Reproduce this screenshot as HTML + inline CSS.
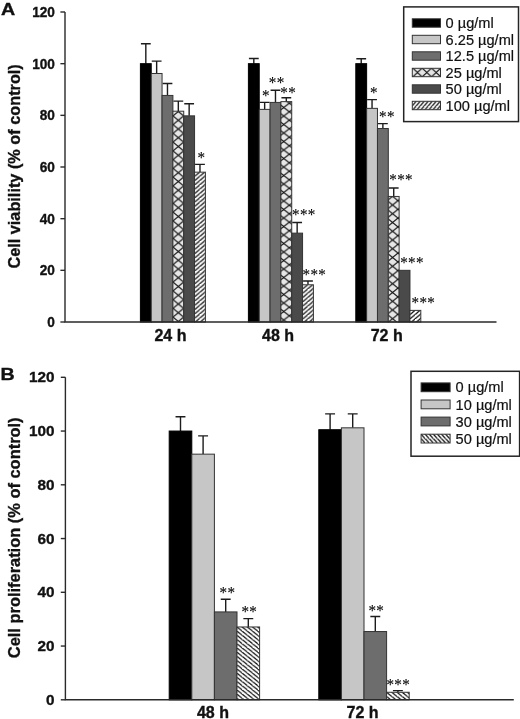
<!DOCTYPE html>
<html lang="en"><head><meta charset="utf-8"><title>Figure</title>
<style>
html,body{margin:0;padding:0;background:#fff}
svg{display:block;filter:blur(0.35px)}
text{font-family:"Liberation Sans",sans-serif;fill:#111}
.b{font-weight:bold;stroke:#111;stroke-width:0.35px}
.r{font-weight:normal;stroke:#111;stroke-width:0.2px}
.st{font-family:'Liberation Serif', serif;font-size:17.6px;letter-spacing:0.36px;fill:#000;stroke:#000;stroke-width:0.12px}
</style></head><body>
<svg width="520" height="719" viewBox="0 0 520 719">
<rect width="520" height="719" fill="#fff"/>
<g id="panelA">
<text x="0.9" y="14.7" font-size="16.6" textLength="14.2" lengthAdjust="spacingAndGlyphs" class="b">A</text>
<text transform="translate(20.4 268.6) rotate(-90)" font-size="17.0" textLength="204.4" lengthAdjust="spacingAndGlyphs" class="b">Cell viability (% of control)</text>
<path d="M145.82 63.67V43.78M140.92 43.78H150.72" stroke="#1c1c1c" stroke-width="1.4" fill="none"/>
<path d="M156.65 73.49V61.09M151.75 61.09H161.55" stroke="#1c1c1c" stroke-width="1.4" fill="none"/>
<path d="M167.48 95.44V83.56M162.58 83.56H172.38" stroke="#1c1c1c" stroke-width="1.4" fill="none"/>
<path d="M178.32 111.2V101.13M173.42 101.13H183.22" stroke="#1c1c1c" stroke-width="1.4" fill="none"/>
<path d="M189.15 115.85V103.71M184.25 103.71H194.05" stroke="#1c1c1c" stroke-width="1.4" fill="none"/>
<path d="M199.98 172.17V164.42M195.08 164.42H204.88" stroke="#1c1c1c" stroke-width="1.4" fill="none"/>
<rect x="140.4" y="63.67" width="10.83" height="258.33" fill="#000" stroke="#000" stroke-width="1"/>
<rect x="151.23" y="73.49" width="10.83" height="248.51" fill="#c6c6c6" stroke="#333" stroke-width="1"/>
<rect x="162.07" y="95.44" width="10.83" height="226.56" fill="#6d6d6d" stroke="#333" stroke-width="1"/>
<pattern id="xh_172_111" patternUnits="userSpaceOnUse" x="172.95" y="107.12" width="10.7" height="8.75"><rect width="10.7" height="8.75" fill="#e6e6e6"/><path d="M0 0L10.7 8.75M10.7 0L0 8.75" stroke="#111" stroke-width="1.15"/></pattern>
<rect x="172.9" y="111.2" width="10.83" height="210.8" fill="url(#xh_172_111)" stroke="#333" stroke-width="1"/>
<rect x="183.73" y="115.85" width="10.83" height="206.15" fill="#4a4a4a" stroke="#333" stroke-width="1"/>
<pattern id="hA_194_172" patternUnits="userSpaceOnUse" x="194.57" y="172.17" width="5" height="4.3"><rect width="5" height="4.3" fill="#fff"/><path d="M-5 8.6L5 0M0 8.6L10 0" stroke="#111" stroke-width="1.25"/></pattern>
<rect x="194.57" y="172.17" width="10.83" height="149.83" fill="url(#hA_194_172)" stroke="#333" stroke-width="1"/>
<path d="M253.82 63.67V58.5M248.92 58.5H258.72" stroke="#1c1c1c" stroke-width="1.4" fill="none"/>
<path d="M264.65 109.39V102.42M259.75 102.42H269.55" stroke="#1c1c1c" stroke-width="1.4" fill="none"/>
<path d="M275.48 102.42V90.28M270.58 90.28H280.38" stroke="#1c1c1c" stroke-width="1.4" fill="none"/>
<path d="M286.32 101.64V97.77M281.42 97.77H291.22" stroke="#1c1c1c" stroke-width="1.4" fill="none"/>
<path d="M297.15 233.13V222.54M292.25 222.54H302.05" stroke="#1c1c1c" stroke-width="1.4" fill="none"/>
<path d="M307.98 284.8V280.93M303.08 280.93H312.88" stroke="#1c1c1c" stroke-width="1.4" fill="none"/>
<rect x="248.4" y="63.67" width="10.83" height="258.33" fill="#000" stroke="#000" stroke-width="1"/>
<rect x="259.23" y="109.39" width="10.83" height="212.61" fill="#c6c6c6" stroke="#333" stroke-width="1"/>
<rect x="270.07" y="102.42" width="10.83" height="219.58" fill="#6d6d6d" stroke="#333" stroke-width="1"/>
<pattern id="xh_280_101" patternUnits="userSpaceOnUse" x="278.15" y="103.25" width="11.2" height="8.5"><rect width="11.2" height="8.5" fill="#e6e6e6"/><path d="M0 0L11.2 8.5M11.2 0L0 8.5" stroke="#111" stroke-width="1.15"/></pattern>
<rect x="280.9" y="101.64" width="10.83" height="220.36" fill="url(#xh_280_101)" stroke="#333" stroke-width="1"/>
<rect x="291.73" y="233.13" width="10.83" height="88.87" fill="#4a4a4a" stroke="#333" stroke-width="1"/>
<pattern id="hA_302_284" patternUnits="userSpaceOnUse" x="302.57" y="284.8" width="5" height="4.3"><rect width="5" height="4.3" fill="#fff"/><path d="M-5 8.6L5 0M0 8.6L10 0" stroke="#111" stroke-width="1.25"/></pattern>
<rect x="302.57" y="284.8" width="10.83" height="37.2" fill="url(#hA_302_284)" stroke="#333" stroke-width="1"/>
<path d="M361.22 63.67V58.76M356.32 58.76H366.12" stroke="#1c1c1c" stroke-width="1.4" fill="none"/>
<path d="M372.05 108.36V99.58M367.15 99.58H376.95" stroke="#1c1c1c" stroke-width="1.4" fill="none"/>
<path d="M382.88 128.51V123.6M377.98 123.6H387.78" stroke="#1c1c1c" stroke-width="1.4" fill="none"/>
<path d="M393.72 196.45V187.93M388.82 187.93H398.62" stroke="#1c1c1c" stroke-width="1.4" fill="none"/>
<rect x="355.8" y="63.67" width="10.83" height="258.33" fill="#000" stroke="#000" stroke-width="1"/>
<rect x="366.63" y="108.36" width="10.83" height="213.64" fill="#c6c6c6" stroke="#333" stroke-width="1"/>
<rect x="377.47" y="128.51" width="10.83" height="193.49" fill="#6d6d6d" stroke="#333" stroke-width="1"/>
<pattern id="xh_388_196" patternUnits="userSpaceOnUse" x="387.2" y="200.62" width="10.8" height="8.75"><rect width="10.8" height="8.75" fill="#e6e6e6"/><path d="M0 0L10.8 8.75M10.8 0L0 8.75" stroke="#111" stroke-width="1.15"/></pattern>
<rect x="388.3" y="196.45" width="10.83" height="125.55" fill="url(#xh_388_196)" stroke="#333" stroke-width="1"/>
<rect x="399.13" y="270.33" width="10.83" height="51.67" fill="#4a4a4a" stroke="#333" stroke-width="1"/>
<pattern id="hA_409_310" patternUnits="userSpaceOnUse" x="409.97" y="310.38" width="5" height="4.3"><rect width="5" height="4.3" fill="#fff"/><path d="M-5 8.6L5 0M0 8.6L10 0" stroke="#111" stroke-width="1.25"/></pattern>
<rect x="409.97" y="310.38" width="10.83" height="11.62" fill="url(#hA_409_310)" stroke="#333" stroke-width="1"/>
<path d="M65 12V322H496.5" stroke="#2a2a2a" stroke-width="1.4" fill="none"/>
<path d="M60.4 322H65" stroke="#2a2a2a" stroke-width="1.4"/>
<text transform="translate(54.9 327) scale(0.955 1)" text-anchor="end" font-size="14.3" class="b">0</text>
<path d="M60.4 270.33H65" stroke="#2a2a2a" stroke-width="1.4"/>
<text transform="translate(54.9 275) scale(0.955 1)" text-anchor="end" font-size="14.3" class="b">20</text>
<path d="M60.4 218.67H65" stroke="#2a2a2a" stroke-width="1.4"/>
<text transform="translate(54.9 224) scale(0.955 1)" text-anchor="end" font-size="14.3" class="b">40</text>
<path d="M60.4 167H65" stroke="#2a2a2a" stroke-width="1.4"/>
<text transform="translate(54.9 172) scale(0.955 1)" text-anchor="end" font-size="14.3" class="b">60</text>
<path d="M60.4 115.34H65" stroke="#2a2a2a" stroke-width="1.4"/>
<text transform="translate(54.9 120) scale(0.955 1)" text-anchor="end" font-size="14.3" class="b">80</text>
<path d="M60.4 63.67H65" stroke="#2a2a2a" stroke-width="1.4"/>
<text transform="translate(54.9 69) scale(0.955 1)" text-anchor="end" font-size="14.3" class="b">100</text>
<path d="M60.4 12H65" stroke="#2a2a2a" stroke-width="1.4"/>
<text transform="translate(54.9 17) scale(0.955 1)" text-anchor="end" font-size="14.3" class="b">120</text>
<text x="170.4" y="340.5" text-anchor="middle" font-size="16" class="b">24 h</text>
<text x="278" y="340.5" text-anchor="middle" font-size="16" class="b">48 h</text>
<text x="386.7" y="340.5" text-anchor="middle" font-size="16" class="b">72 h</text>
<text transform="translate(197.5 163) scale(0.86 1)" class="st">*</text>
<text transform="translate(261.9 101) scale(0.86 1)" class="st">*</text>
<text transform="translate(268.8 88) scale(0.86 1)" class="st">**</text>
<text transform="translate(280.3 98) scale(0.86 1)" class="st">**</text>
<text transform="translate(292.1 220) scale(0.86 1)" class="st">***</text>
<text transform="translate(302.6 280) scale(0.86 1)" class="st">***</text>
<text transform="translate(370 98) scale(0.86 1)" class="st">*</text>
<text transform="translate(379.1 122) scale(0.86 1)" class="st">**</text>
<text transform="translate(389.3 185) scale(0.86 1)" class="st">***</text>
<text transform="translate(400.2 268) scale(0.86 1)" class="st">***</text>
<text transform="translate(411.6 308) scale(0.86 1)" class="st">***</text>
<rect x="403.7" y="6.9" width="114.8" height="114.7" fill="#fff" stroke="#242424" stroke-width="1.5"/>
<rect x="412.3" y="18.8" width="28.2" height="8.4" fill="#000" stroke="#333" stroke-width="1"/>
<text x="445.6" y="28.1" font-size="14.6" class="r">0 µg/ml</text>
<rect x="412.3" y="35.3" width="28.2" height="8.4" fill="#c6c6c6" stroke="#333" stroke-width="1"/>
<text x="445.6" y="44.6" font-size="14.6" class="r">6.25 µg/ml</text>
<rect x="412.3" y="51.8" width="28.2" height="8.4" fill="#6d6d6d" stroke="#333" stroke-width="1"/>
<text x="445.6" y="61.1" font-size="14.6" class="r">12.5 µg/ml</text>
<pattern id="lgxh" patternUnits="userSpaceOnUse" x="412.8" y="68.2" width="9.35" height="8.6"><rect width="9.35" height="8.6" fill="#e4e4e4"/><path d="M0 0L9.35 8.6M9.35 0L0 8.6" stroke="#111" stroke-width="1.15"/></pattern>
<rect x="412.3" y="68.3" width="28.2" height="8.4" fill="url(#lgxh)" stroke="#333" stroke-width="1"/>
<text x="445.6" y="77.6" font-size="14.6" class="r">25 µg/ml</text>
<rect x="412.3" y="84.8" width="28.2" height="8.4" fill="#4a4a4a" stroke="#333" stroke-width="1"/>
<text x="445.6" y="94.1" font-size="14.6" class="r">50 µg/ml</text>
<pattern id="lghA" patternUnits="userSpaceOnUse" x="412.3" y="101.2" width="4" height="4.7"><rect width="4" height="4.7" fill="#fff"/><path d="M-4 9.4L4 0M0 9.4L8 0" stroke="#111" stroke-width="1.3"/></pattern>
<rect x="412.3" y="101.3" width="28.2" height="8.4" fill="url(#lghA)" stroke="#333" stroke-width="1"/>
<text x="445.6" y="110.6" font-size="14.6" class="r">100 µg/ml</text>
</g>
<g id="panelB">
<text x="0.4" y="379.5" font-size="16.8" textLength="14.2" lengthAdjust="spacingAndGlyphs" class="b">B</text>
<text transform="translate(20.4 658.2) rotate(-90)" font-size="17.0" textLength="240.8" lengthAdjust="spacingAndGlyphs" class="b">Cell proliferation (% of control)</text>
<path d="M180.5 431.05V416.81M175.55 416.81H185.45" stroke="#1c1c1c" stroke-width="1.4" fill="none"/>
<path d="M203.1 454.16V435.89M198.15 435.89H208.05" stroke="#1c1c1c" stroke-width="1.4" fill="none"/>
<path d="M225.7 611.92V599.29M220.75 599.29H230.65" stroke="#1c1c1c" stroke-width="1.4" fill="none"/>
<path d="M248.3 626.97V618.64M243.35 618.64H253.25" stroke="#1c1c1c" stroke-width="1.4" fill="none"/>
<rect x="169.2" y="431.05" width="22.6" height="268.75" fill="#000" stroke="#000" stroke-width="1"/>
<rect x="191.8" y="454.16" width="22.6" height="245.64" fill="#c6c6c6" stroke="#333" stroke-width="1"/>
<rect x="214.4" y="611.92" width="22.6" height="87.88" fill="#6d6d6d" stroke="#333" stroke-width="1"/>
<pattern id="hB_237_626" patternUnits="userSpaceOnUse" x="237" y="626.97" width="5.2" height="4.2"><rect width="5.2" height="4.2" fill="#fff"/><path d="M-5.2 -4.2L5.2 4.2M0 -4.2L10.4 4.2" stroke="#111" stroke-width="1.15"/></pattern>
<rect x="237" y="626.97" width="22.6" height="72.83" fill="url(#hB_237_626)" stroke="#333" stroke-width="1"/>
<path d="M330.1 429.71V413.85M325.15 413.85H335.05" stroke="#1c1c1c" stroke-width="1.4" fill="none"/>
<path d="M352.7 427.82V413.85M347.75 413.85H357.65" stroke="#1c1c1c" stroke-width="1.4" fill="none"/>
<path d="M375.3 631.54V616.49M370.35 616.49H380.25" stroke="#1c1c1c" stroke-width="1.4" fill="none"/>
<path d="M397.9 692.27V690.66M392.95 690.66H402.85" stroke="#1c1c1c" stroke-width="1.4" fill="none"/>
<rect x="318.8" y="429.71" width="22.6" height="270.09" fill="#000" stroke="#000" stroke-width="1"/>
<rect x="341.4" y="427.82" width="22.6" height="271.98" fill="#c6c6c6" stroke="#333" stroke-width="1"/>
<rect x="364" y="631.54" width="22.6" height="68.26" fill="#6d6d6d" stroke="#333" stroke-width="1"/>
<pattern id="hB_386_692" patternUnits="userSpaceOnUse" x="386.6" y="692.27" width="5.2" height="4.2"><rect width="5.2" height="4.2" fill="#fff"/><path d="M-5.2 -4.2L5.2 4.2M0 -4.2L10.4 4.2" stroke="#111" stroke-width="1.15"/></pattern>
<rect x="386.6" y="692.27" width="22.6" height="7.52" fill="url(#hB_386_692)" stroke="#333" stroke-width="1"/>
<path d="M65.4 377.3V699.8H513.8" stroke="#2a2a2a" stroke-width="1.4" fill="none"/>
<path d="M60.8 699.8H65.4" stroke="#2a2a2a" stroke-width="1.4"/>
<text transform="translate(54.6 705) scale(1.0 1)" text-anchor="end" font-size="15.3" class="b">0</text>
<path d="M60.8 646.05H65.4" stroke="#2a2a2a" stroke-width="1.4"/>
<text transform="translate(54.6 651) scale(1.0 1)" text-anchor="end" font-size="15.3" class="b">20</text>
<path d="M60.8 592.3H65.4" stroke="#2a2a2a" stroke-width="1.4"/>
<text transform="translate(54.6 597) scale(1.0 1)" text-anchor="end" font-size="15.3" class="b">40</text>
<path d="M60.8 538.55H65.4" stroke="#2a2a2a" stroke-width="1.4"/>
<text transform="translate(54.6 544) scale(1.0 1)" text-anchor="end" font-size="15.3" class="b">60</text>
<path d="M60.8 484.8H65.4" stroke="#2a2a2a" stroke-width="1.4"/>
<text transform="translate(54.6 490) scale(1.0 1)" text-anchor="end" font-size="15.3" class="b">80</text>
<path d="M60.8 431.05H65.4" stroke="#2a2a2a" stroke-width="1.4"/>
<text transform="translate(54.6 436) scale(1.0 1)" text-anchor="end" font-size="15.3" class="b">100</text>
<path d="M60.8 377.3H65.4" stroke="#2a2a2a" stroke-width="1.4"/>
<text transform="translate(54.6 382) scale(1.0 1)" text-anchor="end" font-size="15.3" class="b">120</text>
<text x="212.9" y="718.4" text-anchor="middle" font-size="16" class="b">48 h</text>
<text x="362.5" y="718.4" text-anchor="middle" font-size="16" class="b">72 h</text>
<text transform="translate(219.6 598) scale(0.86 1)" class="st">**</text>
<text transform="translate(241.4 617) scale(0.86 1)" class="st">**</text>
<text transform="translate(368.4 616) scale(0.86 1)" class="st">**</text>
<text transform="translate(386.5 690) scale(0.86 1)" class="st">***</text>
<rect x="411" y="371.3" width="108.6" height="84.9" fill="#fff" stroke="#242424" stroke-width="1.5"/>
<rect x="421.1" y="382.9" width="29" height="8.8" fill="#000" stroke="#333" stroke-width="1"/>
<text x="455.6" y="392.4" font-size="14.6" class="r">0 µg/ml</text>
<rect x="421.1" y="400" width="29" height="8.8" fill="#c6c6c6" stroke="#333" stroke-width="1"/>
<text x="455.6" y="409.5" font-size="14.6" class="r">10 µg/ml</text>
<rect x="421.1" y="417.1" width="29" height="8.8" fill="#6d6d6d" stroke="#333" stroke-width="1"/>
<text x="455.6" y="426.6" font-size="14.6" class="r">30 µg/ml</text>
<pattern id="lghB" patternUnits="userSpaceOnUse" x="421" y="434.2" width="4.1" height="4.4"><rect width="4.1" height="4.4" fill="#fff"/><path d="M-4.1 -4.4L4.1 4.4M0 -4.4L8.2 4.4" stroke="#111" stroke-width="1.3"/></pattern>
<rect x="421.1" y="434.2" width="29" height="8.8" fill="url(#lghB)" stroke="#333" stroke-width="1"/>
<text x="455.6" y="443.7" font-size="14.6" class="r">50 µg/ml</text>
</g>
</svg>
</body></html>
